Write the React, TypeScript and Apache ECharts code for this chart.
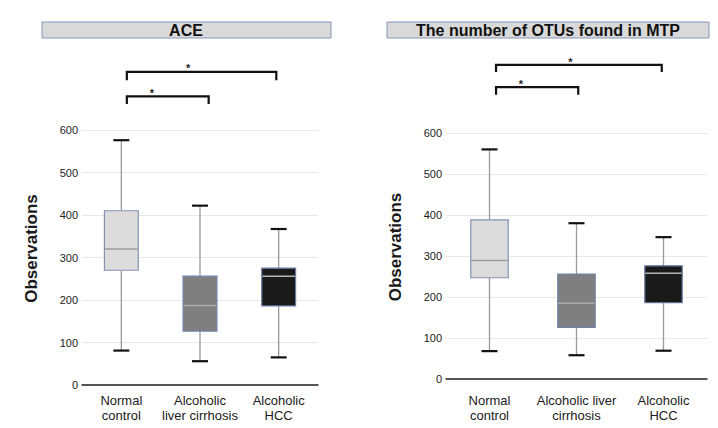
import React, { useEffect, useRef } from "react";
import * as echarts from "echarts";

// ---- data ----
const categoriesLeft = ["Normal\ncontrol", "Alcoholic\nliver cirrhosis", "Alcoholic\nHCC"];
const categoriesRight = ["Normal\ncontrol", "Alcoholic liver\ncirrhosis", "Alcoholic\nHCC"];

// [min, Q1, median, Q3, max]
const aceNormal = [81, 270, 320, 410, 576];
const aceCirrhosis = [56, 127, 187, 256, 422];
const aceHCC = [65, 186, 256, 275, 367];

const otuNormal = [68, 247, 289, 388, 560];
const otuCirrhosis = [58, 126, 185, 256, 380];
const otuHCC = [69, 186, 258, 276, 346];

const yTicks = [0, 100, 200, 300, 400, 500, 600];

// significance brackets: from/to (category units), bar level, tick bottom level, star x (category units), star level
const aceBracketFrom = [0.07, 0.07];
const aceBracketTo = [1.97, 1.11];
const aceBracketY = [737, 679];
const aceBracketTickY = [717, 661];
const aceStarX = [0.85, 0.39];
const aceStarY = [752, 694];

const otuBracketFrom = [0.075, 0.075];
const otuBracketTo = [1.98, 1.02];
const otuBracketY = [766, 712];
const otuBracketTickY = [749, 693];
const otuStarX = [0.93, 0.36];
const otuStarY = [780, 727];

const titleLeft = "ACE";
const titleRight = "The number of OTUs found in MTP";

// ---- styles ----
const boxFill = ["#dcdcdc", "#7f7f7f", "#1a1a1a"];
const boxBorder = ["#8391b5", "#7282a8", "#6a7aa0"];
const medianColor = ["#9c9c9c", "#ababab", "#b5b5b5"];
const FONT = "'Liberation Sans', Arial, Helvetica, sans-serif";

function boxSeries(idx: number, data: number[][]) {
  return {
    type: "custom",
    xAxisIndex: idx,
    yAxisIndex: idx,
    data: data.map((d, i) => [i, ...d]),
    encode: { x: 0, y: [1, 2, 3, 4, 5] },
    renderItem: (params: any, api: any) => {
      const i = params.dataIndex;
      const x = api.value(0);
      const pMin = api.coord([x, api.value(1)]);
      const pQ1 = api.coord([x, api.value(2)]);
      const pMed = api.coord([x, api.value(3)]);
      const pQ3 = api.coord([x, api.value(4)]);
      const pMax = api.coord([x, api.value(5)]);
      const band = api.size([1, 0])[0];
      const bw = band * 0.43;
      const cx = pMin[0];
      const capW = 16;
      return {
        type: "group",
        children: [
          { type: "line", shape: { x1: cx, y1: pMin[1], x2: cx, y2: pQ1[1] }, style: { stroke: "#999", lineWidth: 1.3 } },
          { type: "line", shape: { x1: cx, y1: pQ3[1], x2: cx, y2: pMax[1] }, style: { stroke: "#999", lineWidth: 1.3 } },
          {
            type: "rect",
            shape: { x: cx - bw / 2, y: pQ3[1], width: bw, height: pQ1[1] - pQ3[1] },
            style: { fill: boxFill[i], stroke: boxBorder[i], lineWidth: 1.2 },
          },
          { type: "line", shape: { x1: cx - bw / 2 + 0.6, y1: pMed[1], x2: cx + bw / 2 - 0.6, y2: pMed[1] }, style: { stroke: medianColor[i], lineWidth: 1.5 } },
          { type: "line", shape: { x1: cx - capW / 2, y1: pMin[1], x2: cx + capW / 2, y2: pMin[1] }, style: { stroke: "#111", lineWidth: 2.2 } },
          { type: "line", shape: { x1: cx - capW / 2, y1: pMax[1], x2: cx + capW / 2, y2: pMax[1] }, style: { stroke: "#111", lineWidth: 2.2 } },
        ],
      };
    },
  };
}

function bracketSeries(idx: number, from: number[], to: number[], ys: number[], tickYs: number[], starX: number[], starY: number[]) {
  return {
    type: "custom",
    xAxisIndex: idx,
    yAxisIndex: idx,
    clip: false,
    data: ys.map((y) => [0, y]),
    renderItem: (params: any, api: any) => {
      const i = params.dataIndex;
      const c0 = api.coord([0, ys[i]]);
      const c1 = api.coord([1, ys[i]]);
      const step = c1[0] - c0[0];
      const xa = c0[0] + step * from[i];
      const xb = c0[0] + step * to[i];
      const yb = c0[1];
      const yt = api.coord([0, tickYs[i]])[1];
      const sy = api.coord([0, starY[i]])[1];
      const sx = c0[0] + step * starX[i];
      return {
        type: "group",
        children: [
          {
            type: "polyline",
            shape: { points: [[xa, yt], [xa, yb], [xb, yb], [xb, yt]] },
            style: { stroke: "#111", lineWidth: 2.2, fill: "none" },
          },
          {
            type: "text",
            style: { text: "*", x: sx, y: sy + 3, align: "center", verticalAlign: "middle", fill: "#222", font: `bold 11px ${FONT}` },
          },
        ],
      };
    },
  };
}

export default function App() {
  const ref = useRef<HTMLDivElement>(null);
  useEffect(() => {
    if (!ref.current) return;
    const chart = echarts.init(ref.current, null, { renderer: "svg" });
    const yAxisCommon = {
      type: "value",
      min: 0,
      max: 600,
      interval: 100,
      name: "Observations",
      nameLocation: "middle",
      nameRotate: 90,
      nameGap: 42,
      nameTextStyle: { fontSize: 17, fontWeight: "bold", color: "#1a1a1a", fontFamily: FONT, padding: [0, 0, 0, 18] },
      axisLine: { show: false },
      axisTick: { show: false },
      axisLabel: { fontSize: 11, color: "#222", fontFamily: FONT, margin: 4, formatter: (v: number) => (yTicks.includes(v) ? String(v) : "") },
      splitLine: { lineStyle: { color: "#e8e8e8", width: 1 } },
    };
    const xAxisCommon = {
      type: "category",
      axisLine: { lineStyle: { color: "#222", width: 1.5 } },
      axisTick: { show: false },
      splitLine: { show: false },
    };
    chart.setOption({
      animation: false,
      backgroundColor: "#ffffff",
      grid: [
        { left: 82, right: 400, top: 130, bottom: 43 },
        { left: 446, right: 11, top: 133, bottom: 49 },
      ],
      xAxis: [
        { ...xAxisCommon, gridIndex: 0, data: categoriesLeft, axisLabel: { fontSize: 13, color: "#1a1a1a", fontFamily: FONT, lineHeight: 15, margin: 8, interval: 0 } },
        { ...xAxisCommon, gridIndex: 1, data: categoriesRight, axisLabel: { fontSize: 13, color: "#1a1a1a", fontFamily: FONT, lineHeight: 15, margin: 14, interval: 0 } },
      ],
      yAxis: [
        { ...yAxisCommon, gridIndex: 0 },
        { ...yAxisCommon, gridIndex: 1 },
      ],
      graphic: [
        { type: "rect", shape: { x: 42, y: 22, width: 289, height: 16 }, style: { fill: "#d9d9d9", stroke: "#8595bb", lineWidth: 1 } },
        { type: "text", style: { text: titleLeft, x: 186, y: 30.5, align: "center", verticalAlign: "middle", fill: "#111", font: `bold 16px ${FONT}` } },
        { type: "rect", shape: { x: 387, y: 22, width: 322, height: 16 }, style: { fill: "#d9d9d9", stroke: "#8595bb", lineWidth: 1 } },
        { type: "text", style: { text: titleRight, x: 548, y: 30.5, align: "center", verticalAlign: "middle", fill: "#111", font: `bold 16px ${FONT}` } },
      ],
      series: [
        boxSeries(0, [aceNormal, aceCirrhosis, aceHCC]),
        boxSeries(1, [otuNormal, otuCirrhosis, otuHCC]),
        bracketSeries(0, aceBracketFrom, aceBracketTo, aceBracketY, aceBracketTickY, aceStarX, aceStarY),
        bracketSeries(1, otuBracketFrom, otuBracketTo, otuBracketY, otuBracketTickY, otuStarX, otuStarY),
      ],
    });
    return () => chart.dispose();
  }, []);
  return <div ref={ref} style={{ position: "fixed", left: 0, top: 0, width: 718, height: 428 }} />;
}
